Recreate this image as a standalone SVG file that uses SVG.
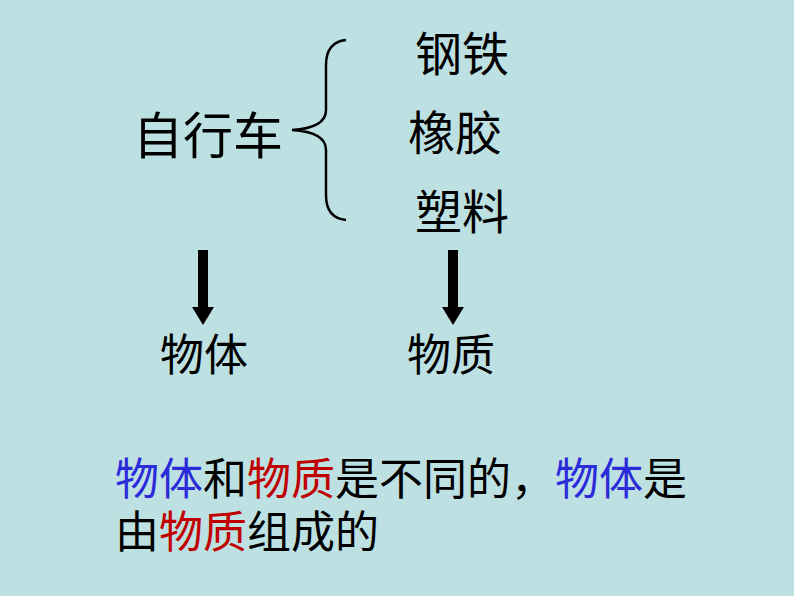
<svg xmlns="http://www.w3.org/2000/svg" width="794" height="596" viewBox="0 0 794 596">
<style>
text{font-family:"Noto Sans CJK SC",sans-serif;fill:#000}
.b{fill:#2B2BD9}.r{fill:#C00000}
</style>
<rect width="794" height="596" fill="#BDE0E3"/>
<g id="bike"><text x="133" y="154" font-size="50">自行车</text></g>
<g id="steel"><text x="415" y="71" font-size="47">钢铁</text></g>
<g id="rubber"><text x="408" y="150" font-size="47">橡胶</text></g>
<g id="plastic"><text x="415" y="229" font-size="47">塑料</text></g>
<g id="object"><text x="160" y="371" font-size="44">物体</text></g>
<g id="matter"><text x="407" y="371" font-size="44">物质</text></g>
<g id="note">
<text x="115" y="495" font-size="44"><tspan class="b">物体</tspan>和<tspan class="r">物质</tspan>是不同的，<tspan class="b">物体</tspan>是</text>
<text x="115" y="548" font-size="44">由<tspan class="r">物质</tspan>组成的</text>
</g>
<g id="connectors">
<path d="M346 40 Q326 42 326 65 L326 110 Q326 128 292 130 Q326 132 326 150 L326 195 Q326 218 346 220" fill="none" stroke="#000" stroke-width="2.5"/>
<path d="M198 250 H208 V307 H214 L203 325 L192 307 H198 Z" fill="#000"/>
<path d="M448 250 H458 V307 H464 L453 325 L442 307 H448 Z" fill="#000"/>
</g>
</svg>
